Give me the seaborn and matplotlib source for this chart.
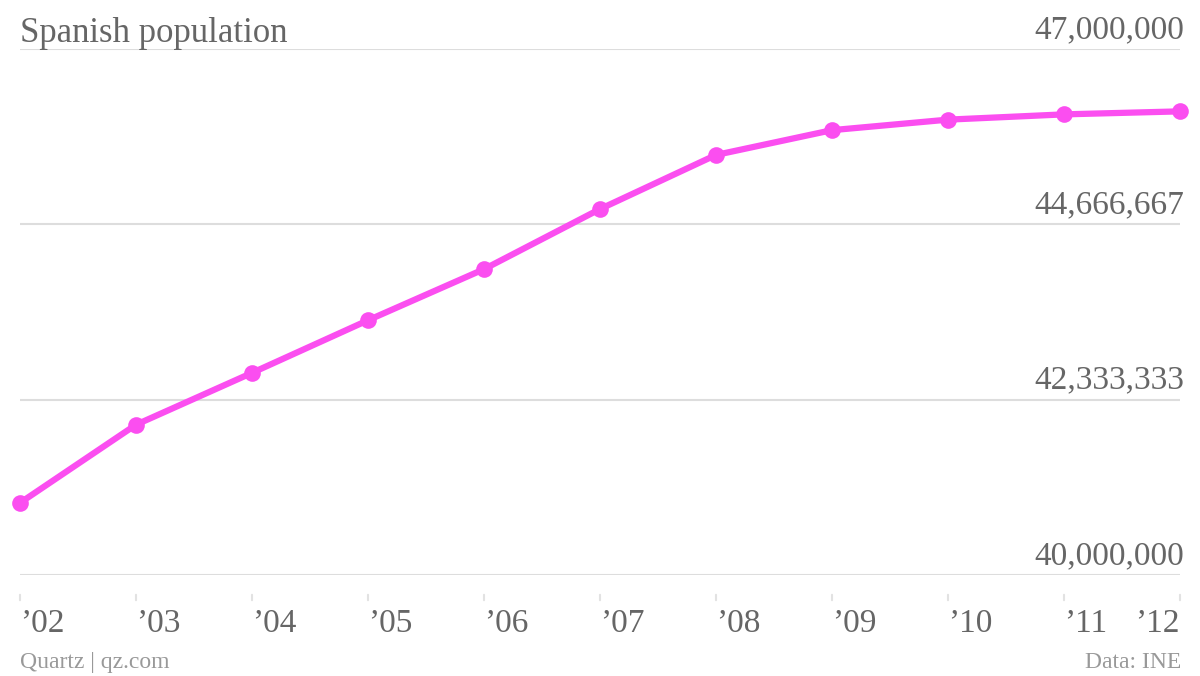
import matplotlib
matplotlib.use("Agg")
import matplotlib.pyplot as plt
import seaborn as sns
import pandas as pd

years = [2002, 2003, 2004, 2005, 2006, 2007, 2008, 2009, 2010, 2011, 2012]
population = [40960000, 42000000, 42690000, 43390000, 44070000, 44870000,
              45590000, 45920000, 46060000, 46130000, 46170000]
year_labels = ["\u201902", "\u201903", "\u201904", "\u201905", "\u201906", "\u201907",
               "\u201908", "\u201909", "\u201910", "\u201911", "\u201912"]
y_ticks = [40000000, 42333333, 44666667, 47000000]

df = pd.DataFrame({"year": years, "population": population})

sns.set_style("white")
plt.rcParams["font.family"] = ["Liberation Serif", "DejaVu Serif"]

fig = plt.figure(figsize=(12, 6.76), dpi=100)
ax = fig.add_axes([20 / 1200, 1 - 575 / 676, 1160 / 1200, 526 / 676])

pink = "#fb4ef0"
sns.lineplot(data=df, x="year", y="population", ax=ax, color=pink, linewidth=4.5,
             marker="o", markersize=12, markeredgewidth=0, clip_on=False, zorder=3)

ax.set_xlim(2002, 2012)
ax.set_ylim(40000000, 47000000)
ax.set_xlabel("")
ax.set_ylabel("")
for sp in ax.spines.values():
    sp.set_visible(False)

# gridlines and value labels
for v in y_ticks:
    ax.axhline(v, color="#dddddd", linewidth=1.5, zorder=1)
    ax.annotate(f"{v:,}", xy=(1, v), xycoords=("axes fraction", "data"),
                xytext=(3, 3), textcoords="offset points", ha="right", va="bottom",
                fontsize=24, color="#666666")

ax.set_yticks([])
ax.set_xticks([])

# x tick marks and labels
for i, (yr, lab) in enumerate(zip(years, year_labels)):
    ax.annotate("", xy=(yr, -17 / 526), xycoords=("data", "axes fraction"),
                xytext=(yr, -28 / 526), textcoords=("data", "axes fraction"),
                arrowprops=dict(arrowstyle="-", color="#e2e2e2", lw=1.5))
    ha = "right" if i == len(years) - 1 else "left"
    ax.annotate(lab, xy=(yr, 0), xycoords=("data", "axes fraction"),
                xytext=(0, -24), textcoords="offset points", ha=ha, va="top",
                fontsize=24, color="#666666")

fig.text(20 / 1200, 1 - 42 / 676, "Spanish population", ha="left", va="baseline",
         fontsize=25, color="#666666")
fig.text(20 / 1200, 1 - 668 / 676, "Quartz | qz.com", ha="left", va="baseline",
         fontsize=17, color="#999999")
fig.text(1181 / 1200, 1 - 668 / 676, "Data: INE", ha="right", va="baseline",
         fontsize=17, color="#999999")

fig.savefig("out.png", dpi=100, facecolor="white")
